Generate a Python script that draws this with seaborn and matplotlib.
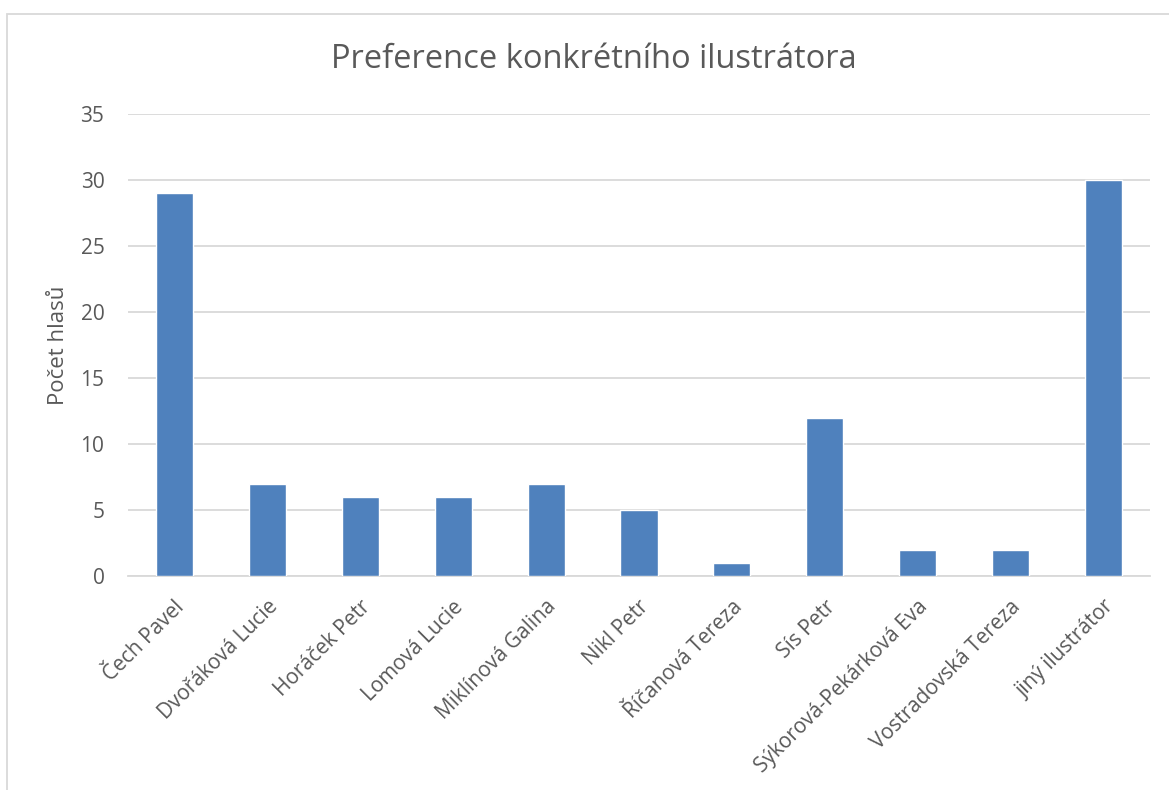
import matplotlib
matplotlib.use("Agg")
import matplotlib.pyplot as plt
import matplotlib.patches as mpatches
import matplotlib.transforms as mtransforms
import pandas as pd
import seaborn as sns

# data
illustrators = [
    "Čech Pavel", "Dvořáková Lucie", "Horáček Petr", "Lomová Lucie",
    "Miklínová Galina", "Nikl Petr", "Říčanová Tereza", "Sís Petr",
    "Sýkorová-Pekárková Eva", "Vostradovská Tereza", "jiný ilustrátor",
]
votes = [29, 7, 6, 6, 7, 5, 1, 12, 2, 2, 30]
y_ticks = [0, 5, 10, 15, 20, 25, 30, 35]

df = pd.DataFrame({"ilustrator": illustrators, "hlasy": votes})

sns.set_theme(style="white")
plt.rcParams["font.family"] = ["Open Sans", "DejaVu Sans"]

text_col = "#595959"
grid_col = "#D9D9D9"

fig = plt.figure(figsize=(11.69, 7.9), dpi=100)
ax = fig.add_axes([128 / 1169, 1 - 576 / 790, 1022 / 1169, (576 - 114) / 790])

sns.barplot(data=df, x="ilustrator", y="hlasy", color="#4F81BD",
            width=0.4, saturation=1, ax=ax, zorder=3)

ax.set_ylim(0, 35)
ax.set_yticks(y_ticks)
ax.set_xlim(-0.5, len(illustrators) - 0.5)
ax.yaxis.grid(True, color=grid_col, linewidth=1.3, zorder=0)
ax.set_axisbelow(True)
for s in ["top", "right", "left"]:
    ax.spines[s].set_visible(False)
ax.spines["bottom"].set_color(grid_col)
ax.spines["bottom"].set_linewidth(1.3)
ax.tick_params(axis="both", length=0, labelsize=15, colors=text_col)
ax.tick_params(axis="y", pad=17)
ax.tick_params(axis="x", pad=20)

shift = mtransforms.ScaledTranslation(7 / 100, 0, fig.dpi_scale_trans)
for lbl in ax.get_xticklabels():
    lbl.set_rotation(45)
    lbl.set_ha("right")
    lbl.set_va("center")
    lbl.set_rotation_mode("anchor")
    lbl.set_transform(lbl.get_transform() + shift)

ax.set_xlabel("")
ax.set_ylabel("Počet hlasů", fontsize=16, color=text_col, labelpad=8)
fig.text(594 / 1169, 1 - 60 / 790, "Preference konkrétního ilustrátora",
         ha="center", va="center", fontsize=23.5, color=text_col)

# chart frame
fig.patches.append(mpatches.Rectangle((7 / 1169, -0.1), 1.2, 0.1 + 1 - 14 / 790,
                                      transform=fig.transFigure, fill=False,
                                      edgecolor=grid_col, linewidth=1.3))

fig.savefig("out.png", dpi=100)
